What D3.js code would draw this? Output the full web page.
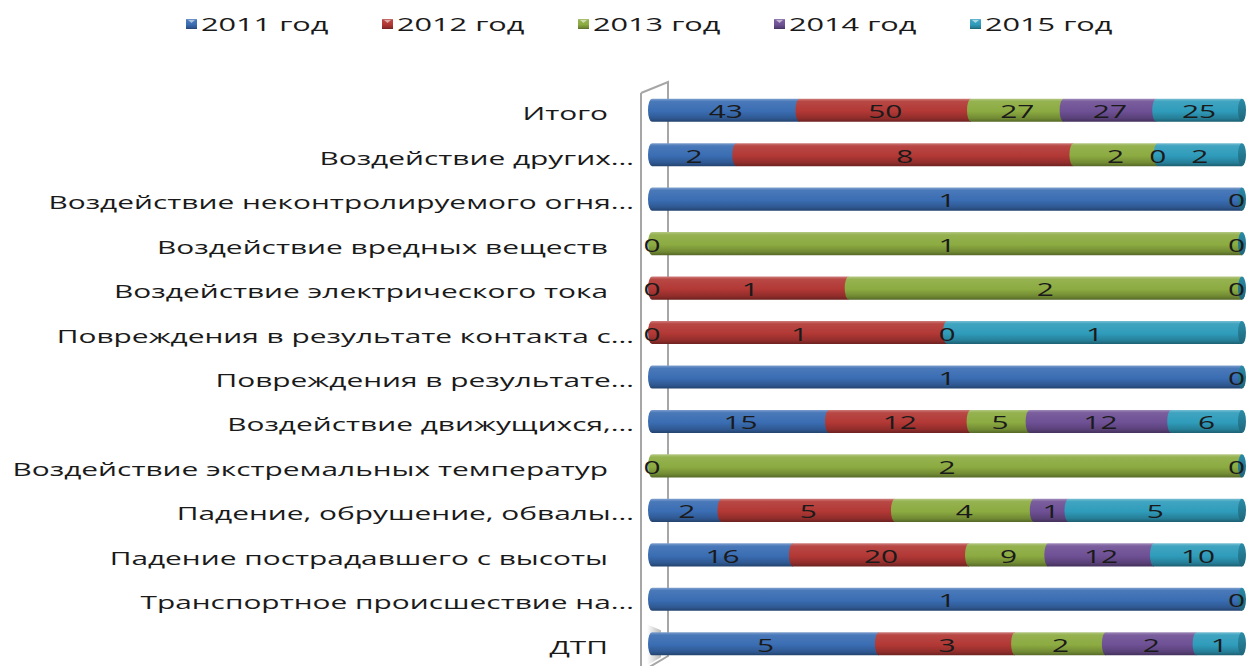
<!DOCTYPE html>
<html><head><meta charset="utf-8">
<script src="https://cdn.jsdelivr.net/npm/d3@7"></script>
<style>html,body{margin:0;padding:0;background:#fff;}svg{display:block;}</style>
</head><body>
<svg id="c" width="1246" height="666"></svg>
<script>
const categories = [
  "Итого",
  "Воздействие других…",
  "Воздействие неконтролируемого огня…",
  "Воздействие вредных веществ",
  "Воздействие электрического тока",
  "Повреждения в результате контакта с…",
  "Повреждения в результате…",
  "Воздействие движущихся,…",
  "Воздействие экстремальных температур",
  "Падение, обрушение, обвалы…",
  "Падение пострадавшего с высоты",
  "Транспортное происшествие на…",
  "ДТП"
];
const seriesNames = ["2011 год","2012 год","2013 год","2014 год","2015 год"];
const v2011 = [43, 2, 1, 0, 0, 0, 1, 15, 0, 2, 16, 1, 5];
const v2012 = [50, 8, null, null, 1, 1, null, 12, null, 5, 20, null, 3];
const v2013 = [27, 2, null, 1, 2, 0, null, 5, 2, 4, 9, null, 2];
const v2014 = [27, 0, null, null, null, null, null, 12, null, 1, 12, null, 2];
const v2015 = [25, 2, 0, 0, 0, 1, 0, 6, 0, 5, 10, 0, 1];
const seriesValues = [v2011, v2012, v2013, v2014, v2015];
const colors = ["#3a6db3", "#b23835", "#8cab41", "#6e5095", "#2f9cbb"];

const svg = d3.select("#c");
const FONT = "'Open Sans', 'DejaVu Sans', sans-serif";
const FS = 18;

const probe = svg.append("text").attr("font-family", FONT).attr("font-size", FS)
  .text("Воздействие неконтролируемого огня…");
const sx = 586 / probe.node().getComputedTextLength();
probe.remove();

const table = categories.map((c, i) => {
  const o = {cat: c};
  seriesNames.forEach((s, k) => o[s] = seriesValues[k][i]);
  return o;
});

const stack = d3.stack().keys(seriesNames)
  .value((d, k) => d[k] == null ? 0 : d[k])
  .offset(d3.stackOffsetExpand);
const layers = stack(table);

const x = d3.scaleLinear().domain([0, 1]).range([652, 1242]);
const y = d3.scaleBand().domain(categories).range([88, 666]).paddingInner(0.48).paddingOuter(0.24);

const defs = svg.append("defs");
colors.forEach((c, i) => {
  const g = defs.append("linearGradient").attr("id", "g" + i)
    .attr("x1", 0).attr("y1", 0).attr("x2", 0).attr("y2", 1);
  const base = d3.color(c);
  g.append("stop").attr("offset", "0%").attr("stop-color", d3.interpolateRgb(c, "#fff")(0.35));
  g.append("stop").attr("offset", "12%").attr("stop-color", d3.interpolateRgb(c, "#fff")(0.08));
  g.append("stop").attr("offset", "55%").attr("stop-color", c);
  g.append("stop").attr("offset", "85%").attr("stop-color", base.darker(0.6));
  g.append("stop").attr("offset", "100%").attr("stop-color", base.darker(1.4));
  const gc = defs.append("linearGradient").attr("id", "gc" + i)
    .attr("x1", 0).attr("y1", 0).attr("x2", 0).attr("y2", 1);
  gc.append("stop").attr("offset", "0%").attr("stop-color", base.darker(0.3));
  gc.append("stop").attr("offset", "100%").attr("stop-color", base.darker(1.2));
});
const sh = defs.append("linearGradient").attr("id", "shadow").attr("x1", 0).attr("x2", 1);
sh.append("stop").attr("offset", "0%").attr("stop-color", "#fff");
sh.append("stop").attr("offset", "100%").attr("stop-color", "#9a9a9a");

const wall = svg.append("g").attr("stroke", "#a6a6a6").attr("stroke-width", 2).attr("fill", "none");
wall.append("path").attr("d", "M641,93 L668,82 L668,656 L641,672");
wall.append("line").attr("x1", 641).attr("y1", 93).attr("x2", 641).attr("y2", 666);

const lastY = y(categories[categories.length - 1]);
svg.append("path")
  .attr("d", `M647,${lastY - 8} L661,${lastY - 2} L661,${lastY + y.bandwidth() + 2} L647,${lastY + y.bandwidth() + 10} Z`)
  .attr("fill", "url(#shadow)").attr("opacity", 0.7);

const rx = 4;
const bars = svg.append("g");
layers.forEach((layer, k) => {
  bars.selectAll(null).data(layer.filter(d => d[1] - d[0] > 1e-9)).join("path")
    .attr("fill", `url(#g${k})`)
    .attr("d", d => {
      const x0 = x(d[0]), x1 = x(d[1]);
      const t = y(d.data.cat), b = t + y.bandwidth(), ry = y.bandwidth() / 2;
      return `M${x0},${t} L${x1},${t} L${x1},${b} L${x0},${b} A${rx},${ry} 0 0 1 ${x0},${t} Z`;
    });
});
bars.selectAll(null).data(categories).join("ellipse")
  .attr("cx", x(1)).attr("cy", d => y(d) + y.bandwidth() / 2)
  .attr("rx", 4).attr("ry", y.bandwidth() / 2)
  .attr("fill", `url(#gc4)`);

const lbl = svg.append("g").attr("font-family", FONT).attr("font-size", FS).attr("fill", "#1a1a1a");
layers.forEach((layer, k) => {
  lbl.selectAll(null).data(layer.filter(d => d.data[seriesNames[k]] != null)).join("text")
    .attr("text-anchor", "middle")
    .text(d => d.data[seriesNames[k]])
    .attr("transform", function(d) {
      const w = this.getComputedTextLength() * sx;
      const cx = Math.min((x(d[0]) + x(d[1])) / 2, 1245 - w / 2);
      return `translate(${cx},${y(d.data.cat) + y.bandwidth() / 2 + 8}) scale(${sx},1)`;
    });
});

const cl = svg.append("g").attr("font-family", FONT).attr("font-size", FS).attr("fill", "#1a1a1a");
cl.selectAll(null).data(categories).join("text")
  .attr("text-anchor", "end")
  .attr("transform", d => `translate(${d.endsWith("…") ? 634 : 608},${y(d) + y.bandwidth() / 2 + 10}) scale(${sx},1)`)
  .text(d => d);

const leg = svg.append("g");
const li = leg.selectAll(null).data(seriesNames).join("g")
  .attr("transform", (d, i) => `translate(${186 + i * 196},19)`);
li.append("rect").attr("width", 11).attr("height", 10).attr("fill", (d, i) => `url(#g${i})`);
li.append("path").attr("d", "M2,1 L9,1 L5.5,4 Z").attr("fill", "#fff").attr("opacity", 0.55);
li.append("text").attr("font-family", FONT).attr("font-size", FS + 0.5).attr("fill", "#1a1a1a")
  .attr("transform", `translate(15,12) scale(${sx},1)`).text(d => d);
</script>
</body></html>
